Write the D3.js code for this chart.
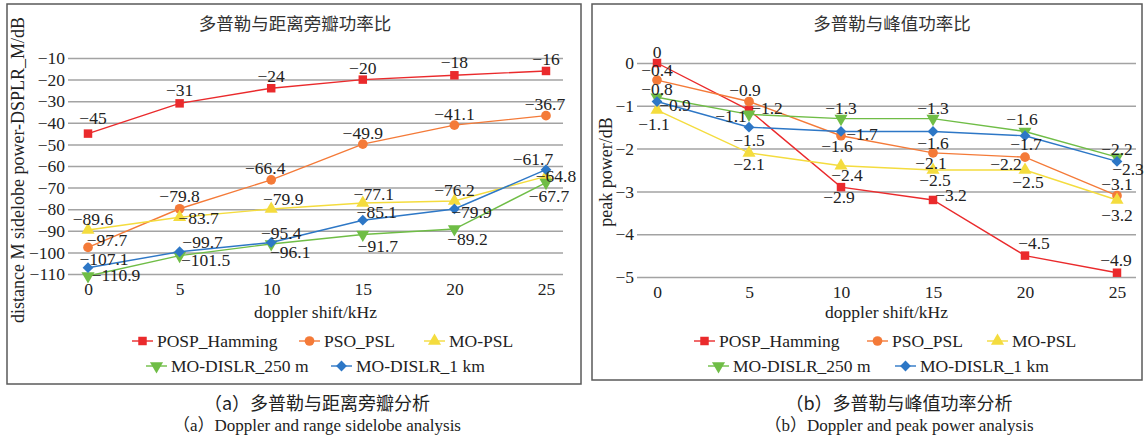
<!doctype html>
<html>
<head>
<meta charset="utf-8">
<title>Doppler analysis</title>
<script src="https://cdnjs.cloudflare.com/ajax/libs/d3/7.8.5/d3.min.js"></script>
<style>
body { margin: 0; background: #fff; }
svg { display: block; font-family: "Liberation Serif", "Times New Roman", "Noto Sans CJK SC", serif; }
</style>
</head>
<body>
<svg id="chart" width="1145" height="439"></svg>
<script>
/* DATA */
var shifts = [0, 5, 10, 15, 20, 25];
var seriesNames = ["POSP_Hamming", "PSO_PSL", "MO-PSL", "MO-DISLR_250 m", "MO-DISLR_1 km"];

// (a) range sidelobe, dB
var sidelobePOSP = [-45, -31, -24, -20, -18, -16];
var sidelobePSO = [-97.7, -79.8, -66.4, -49.9, -41.1, -36.7];
var sidelobeMOPSL = [-89.6, -83.7, -79.9, -77.1, -76.2, -64.8];
var sidelobeDISLR250 = [-110.9, -101.5, -96.1, -91.7, -89.2, -67.7];
var sidelobeDISLR1k = [-107.1, -99.7, -95.4, -85.1, -79.9, -61.7];
var sidelobeTicks = [-10, -20, -30, -40, -50, -60, -70, -80, -90, -100, -110];

// (b) peak power, dB
var peakPOSP = [0, -1.1, -2.9, -3.2, -4.5, -4.9];
var peakPSO = [-0.4, -0.9, -1.7, -2.1, -2.2, -3.1];
var peakMOPSL = [-1.1, -2.1, -2.4, -2.5, -2.5, -3.2];
var peakDISLR250 = [-0.8, -1.2, -1.3, -1.3, -1.6, -2.2];
var peakDISLR1k = [-0.9, -1.5, -1.6, -1.6, -1.7, -2.3];
var peakTicks = [0, -1, -2, -3, -4, -5];

/* STYLE / LAYOUT */
var colors = ["#ea2a2c", "#f47a38", "#f4dc3e", "#6fbd46", "#2d77c6"];
var FS = 17.5;

// data label offsets (dx, dy) from the marker, per series per point
var sidelobeLabelOff = [
    [[5,-16],[0,-13],[0,-12],[0,-12],[0,-13],[0,-12]],
    [[19,-8],[0,-13],[-6,-12],[0,-11],[0,-11],[-1,-12]],
    [[5,-11],[19,1],[12,-10],[11,-9],[0,-11],[10,0]],
    [[28,-1],[26,4],[19,8],[15,11],[13,10],[3,13]],
    [[16,-9],[23,-10],[10,-10],[14,-8],[17,3],[-13,-11]]
];
var peakLabelOff = [
    [[0,-11],[-18,6],[-2,10],[18,-5],[9,-13],[-1,-13]],
    [[0,-10],[-4,-12],[21,-2],[-2,10],[-19,7],[0,-12]],
    [[-3,14],[0,11],[6,9],[2,10],[3,12],[0,15]],
    [[0,-8],[18,-6],[0,-11],[0,-11],[-3,-13],[0,-8]],
    [[18,3],[0,13],[-4,14],[0,11],[1,8],[11,7]]
];

function fmt(v) { return v < 0 ? "\u2212" + Math.abs(v) : String(v); }

var svg = d3.select("#chart");

var panels = [
    {
        box: [7, 4, 581, 384],
        px: [88, 546], gx: [68, 563],
        yDomain: [-110, -10], yRange: [274, 58], ticks: sidelobeTicks,
        series: [sidelobePOSP, sidelobePSO, sidelobeMOPSL, sidelobeDISLR250, sidelobeDISLR1k],
        labelOff: sidelobeLabelOff,
        title: "多普勒与距离旁瓣功率比", titleX: 295,
        yTitle: "distance M sidelobe power-DSPLR_M/dB", yTitleX: 18, yTitleY: 170,
        legendRows: [[[0, 132], [1, 299], [2, 424]], [[3, 146], [4, 331]]],
        cap1: "（a）多普勒与距离旁瓣分析", cap2: "（a）Doppler and range sidelobe analysis", capX: 317
    },
    {
        box: [592, 4, 1142, 380],
        px: [657, 1117], gx: [637, 1136],
        yDomain: [-5, 0], yRange: [277, 63], ticks: peakTicks,
        series: [peakPOSP, peakPSO, peakMOPSL, peakDISLR250, peakDISLR1k],
        labelOff: peakLabelOff,
        title: "多普勒与峰值功率比", titleX: 892,
        yTitle: "peak power/dB", yTitleX: 606, yTitleY: 172,
        legendRows: [[[0, 694], [1, 867], [2, 987]], [[3, 708], [4, 895]]],
        cap1: "（b）多普勒与峰值功率分析", cap2: "（b）Doppler and peak power analysis", capX: 899
    }
];

function markerPath(i) {
    var s;
    if (i == 0) s = d3.symbol().type(d3.symbolSquare).size(72);
    else if (i == 1) s = d3.symbol().type(d3.symbolCircle).size(74);
    else if (i == 4) s = d3.symbol().type(d3.symbolSquare).size(58);
    else s = d3.symbol().type(d3.symbolTriangle).size(74);
    return s();
}
function markerRot(i) {
    if (i == 3) return " rotate(180)";
    if (i == 4) return " rotate(45)";
    return "";
}

panels.forEach(function(p) {
    var g = svg.append("g");

    g.append("rect")
        .attr("x", p.box[0]).attr("y", p.box[1])
        .attr("width", p.box[2] - p.box[0]).attr("height", p.box[3] - p.box[1])
        .attr("fill", "none").attr("stroke", "#5a5a5a").attr("stroke-width", 1.5);

    var x = d3.scalePoint().domain(shifts).range(p.px);
    var y = d3.scaleLinear().domain(p.yDomain).range(p.yRange);

    // y axis + gridlines
    var yAxis = d3.axisLeft(y).tickValues(p.ticks).tickFormat(fmt)
        .tickSize(-(p.gx[1] - p.gx[0])).tickPadding(3);
    var ya = g.append("g")
        .attr("transform", "translate(" + p.gx[0] + ",0)")
        .call(yAxis);
    ya.select(".domain").remove();
    ya.selectAll("line").attr("stroke", "#a3a3a3").attr("stroke-width", 1.5);
    ya.selectAll("text").attr("font-size", FS).attr("fill", "#222")
        .attr("font-family", "Liberation Serif, serif");

    // x axis labels
    var xAxis = d3.axisBottom(x).tickSize(0).tickPadding(0);
    var xa = g.append("g")
        .attr("transform", "translate(0," + (p.yRange[0] + 9) + ")")
        .call(xAxis);
    xa.select(".domain").remove();
    xa.selectAll("text").attr("font-size", FS).attr("fill", "#222")
        .attr("font-family", "Liberation Serif, serif");

    // titles
    g.append("text").attr("x", p.titleX).attr("y", 30)
        .attr("text-anchor", "middle").attr("font-size", 17.5).attr("fill", "#333")
        .attr("font-family", "Noto Sans CJK SC, sans-serif")
        .text(p.title);
    g.append("text").attr("x", (p.gx[0] + p.gx[1]) / 2).attr("y", 318)
        .attr("text-anchor", "middle").attr("font-size", FS).attr("fill", "#222")
        .text("doppler shift/kHz");
    g.append("text")
        .attr("transform", "translate(" + (p.yTitleX + 6) + "," + p.yTitleY + ") rotate(-90)")
        .attr("text-anchor", "middle").attr("font-size", 18).attr("fill", "#222")
        .text(p.yTitle);

    // lines
    var line = d3.line().x(function(d, i) { return x(shifts[i]); }).y(function(d) { return y(d); });
    p.series.forEach(function(vals, si) {
        g.append("path").datum(vals)
            .attr("d", line)
            .attr("fill", "none").attr("stroke", colors[si]).attr("stroke-width", 1.4);
        g.selectAll(".m" + si).data(vals).enter()
            .append("path")
            .attr("class", "m" + si)
            .attr("d", markerPath(si))
            .attr("transform", function(d, i) { return "translate(" + x(shifts[i]) + "," + y(d) + ")" + markerRot(si); })
            .attr("fill", colors[si]);
    });

    // data labels
    p.series.forEach(function(vals, si) {
        g.selectAll(".lb" + si).data(vals).enter()
            .append("text")
            .attr("class", "lb" + si)
            .attr("x", function(d, i) { return x(shifts[i]) + p.labelOff[si][i][0]; })
            .attr("y", function(d, i) { return y(d) + p.labelOff[si][i][1]; })
            .attr("dy", "0.35em")
            .attr("text-anchor", "middle").attr("font-size", FS).attr("fill", "#222")
            .text(fmt);
    });

    // legend
    var rowY = [341, 366];
    p.legendRows.forEach(function(row, ri) {
        row.forEach(function(item) {
            var si = item[0];
            var it = g.append("g").attr("transform", "translate(" + item[1] + "," + rowY[ri] + ")");
            it.append("line").attr("x1", 0).attr("x2", 21).attr("y1", 0).attr("y2", 0)
                .attr("stroke", colors[si]).attr("stroke-width", 1.4);
            it.append("path").attr("d", markerPath(si))
                .attr("transform", "translate(10.5,0)" + markerRot(si)).attr("fill", colors[si]);
            it.append("text").attr("x", 25).attr("dy", "0.35em")
                .attr("font-size", FS).attr("fill", "#222").text(seriesNames[si]);
        });
    });

    // captions
    g.append("text").attr("x", p.capX).attr("y", 410)
        .attr("text-anchor", "middle").attr("font-size", 18).attr("fill", "#222")
        .attr("font-family", "Noto Sans CJK SC, sans-serif")
        .text(p.cap1);
    g.append("text").attr("x", p.capX).attr("y", 431)
        .attr("text-anchor", "middle").attr("font-size", 17).attr("fill", "#222")
        .text(p.cap2);
});
</script>
</body>
</html>
